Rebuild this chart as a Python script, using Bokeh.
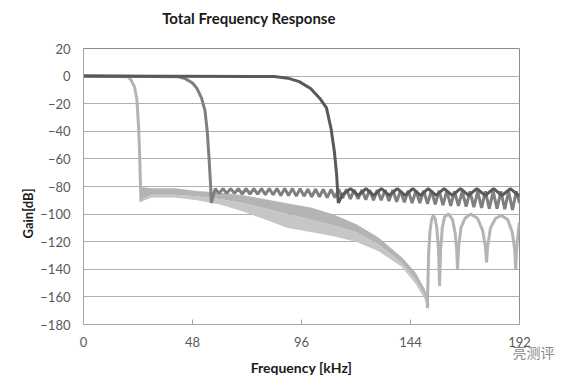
from bokeh.plotting import figure
from bokeh.models import Range1d, FixedTicker, Title, LinearAxis, CustomJSTickFormatter
from bokeh.embed import file_html
from bokeh.resources import INLINE

# ---------------- data ----------------
x_ticks = [0, 48, 96, 144, 192]
y_ticks = [-180, -160, -140, -120, -100, -80, -60, -40, -20, 0, 20]

# light curve (lowest cut-off)
light_pass_f = [0, 19.5, 21.0, 22.5, 23.5, 24.2, 24.7, 25.1, 25.3]
light_pass_g = [0, -0.5, -3, -8, -17, -35, -55, -80, -91]
light_band_f = [25.3, 30, 40, 50, 60, 70, 80, 90, 100, 110, 120, 130, 140, 146, 150, 152]
light_band_top = [-81, -82, -82, -84, -85, -87, -90, -93, -96, -101, -108, -118, -132, -143, -155, -166]
light_band_mid = [-90, -86, -86, -87, -89, -92, -96, -100, -104, -108, -113, -122, -135, -147, -158, -168]
light_band_bot = [-91, -88, -88, -90, -93, -98, -104, -110, -113, -116, -120, -127, -138, -150, -161, -170]
light_lobe_f = [151.4, 152.0, 152.6, 153.3, 154.0, 154.8, 155.6, 156.3, 156.8, 157.3, 158.0, 159.0,
                160.8, 162.5, 163.7, 164.3, 164.7, 165.2, 166.2, 168.0, 170.5, 173.5, 175.8, 177.0,
                177.5, 178.0, 179.2, 181.5, 184.0, 186.8, 188.8, 189.9, 190.3, 190.8, 191.5, 192.0]
light_lobe_g = [-168, -128, -112, -104, -101, -103, -110, -125, -152, -125, -110, -102,
                -100, -104, -114, -125, -140, -124, -110, -103, -100, -103, -112, -124,
                -135, -123, -110, -103, -101, -104, -113, -126, -140, -124, -112, -106]

# medium curve
med_pass_f = [0, 42, 45, 48, 50, 52, 53.5, 54.5, 55.3, 56.0, 56.3]
med_pass_g = [0, -0.5, -2, -5, -9, -16, -25, -40, -60, -80, -92]
med_stop_f = [56.3, 58.0, 59.7, 61.4, 63.1, 64.8, 66.5, 68.2, 69.9, 71.6, 73.3, 75.0, 76.7, 78.4,
              80.1, 81.8, 83.5, 85.2, 86.9, 88.6, 90.3, 92.0, 93.7, 95.4, 97.1, 98.8, 100.5, 102.2,
              103.9, 105.6, 107.3, 109.0, 110.7, 112.4, 114.1, 115.8, 117.5, 119.2, 120.9, 122.6,
              124.3, 126.0, 127.7, 129.4, 131.1, 132.8, 134.5, 136.2, 137.9, 139.6, 141.3, 143.0,
              144.7, 146.4, 148.1, 149.8, 151.5, 153.2, 154.9, 156.6, 158.3, 160.0, 161.7, 163.4,
              165.1, 166.8, 168.5, 170.2, 171.9, 173.6, 175.3, 177.0, 178.7, 180.4, 182.1, 183.8,
              185.5, 187.2, 188.9, 190.6, 192.0]
med_stop_g = [-92, -81.5, -85, -81.5, -85, -81.5, -85, -81.5, -85.5, -81.5, -85.5, -81.5, -85.5, -81.5,
              -86, -81.5, -86, -81.5, -86.5, -81.5, -86.5, -81.5, -87, -81.5, -87, -82, -87.5, -82,
              -87.5, -82, -88, -82, -88, -82, -88.5, -82, -89, -82.5, -89, -82.5,
              -89.5, -82.5, -90, -82.5, -90, -82.5, -90.5, -82.5, -91, -83, -91.5, -83,
              -92, -83, -92, -83, -92.5, -83, -93, -83, -93.5, -83, -94, -83.5,
              -94, -83.5, -94.5, -83.5, -95, -83.5, -95.5, -83.5, -96, -83.5, -96, -83.5,
              -96.5, -83.5, -97, -83.5, -92]

# dark curve (highest cut-off)
dark_pass_f = [0, 84, 90, 95, 100, 104, 107, 109, 110.5, 111.5, 112.2]
dark_pass_g = [0, -0.3, -1.5, -4, -9, -16, -23, -38, -55, -72, -92]
dark_stop_f = [112.2, 114.0, 117.6, 121.0, 124.4, 127.8, 131.2, 134.7, 138.2, 141.6, 145.0, 148.4,
               151.8, 155.3, 158.8, 162.4, 166.0, 169.6, 173.2, 176.9, 180.6, 184.3, 188.0, 191.5, 192.0]
dark_stop_g = [-92, -86, -81.5, -86.5, -81.5, -86.5, -81.5, -86.5, -81.5, -86.5, -81.5, -86.5,
               -81.5, -86.5, -81.5, -86.5, -81.5, -86.5, -81.5, -86.5, -81.5, -86.5, -81.5, -86.5, -86]

LIGHT = "#b4b4b4"
LIGHT_TEETH = "#c6c6c6"
MED = "#7f7f7f"
DARK = "#595959"
FONT = "Lato"

p = figure(width=576, height=379, output_backend="svg", toolbar_location=None,
           x_range=Range1d(0, 192), y_range=Range1d(-180, 20),
           min_border_left=83, min_border_right=57, min_border_top=48, min_border_bottom=55)
p.title = None
p.extra_x_ranges = {"wm": Range1d(0, 1)}
main_x = p.xaxis[0]
main_y = p.yaxis[0]

# chart title, carried by a label-only top axis so that it sits where the original's does
title_axis = LinearAxis(x_range_name="wm", ticker=FixedTicker(ticks=[0.3796]),
                        formatter=CustomJSTickFormatter(code="return 'Total Frequency Response'"),
                        axis_line_color=None, major_tick_line_color=None, minor_tick_line_color=None,
                        major_tick_in=0, major_tick_out=0, major_label_standoff=22,
                        major_label_text_font=FONT, major_label_text_font_size="15px",
                        major_label_text_font_style="bold", major_label_text_color="#1a1a1a")
p.add_layout(title_axis, "above")
p.add_layout(Title(text="Gain[dB]", align="left", offset=86, standoff=4,
                   text_font=FONT, text_font_size="13px", text_font_style="bold",
                   text_color="#1a1a1a"), "left")

# light
p.line(light_pass_f, light_pass_g, line_color=LIGHT, line_width=3)
p.varea(x=light_band_f, y1=light_band_mid, y2=light_band_bot, fill_color=LIGHT_TEETH)
p.varea(x=light_band_f, y1=light_band_top, y2=light_band_mid, fill_color=LIGHT)
p.line(light_band_f, light_band_top, line_color=LIGHT, line_width=2)
p.line(light_lobe_f, light_lobe_g, line_color=LIGHT, line_width=3)
# medium
p.line(med_pass_f, med_pass_g, line_color=MED, line_width=3)
p.line(med_stop_f, med_stop_g, line_color=MED, line_width=3)
# dark
p.line(dark_pass_f, dark_pass_g, line_color=DARK, line_width=3)
p.line(dark_stop_f, dark_stop_g, line_color=DARK, line_width=3)

# axes
main_x.ticker = FixedTicker(ticks=x_ticks)
main_y.ticker = FixedTicker(ticks=y_ticks)
for ax in (main_x, main_y):
    ax.major_label_text_font = FONT
    ax.major_label_text_font_size = "13px"
    ax.major_label_text_color = "#595959"
    ax.minor_tick_line_color = None
    ax.axis_line_color = "#a6a6a6"
    ax.major_tick_line_color = "#a6a6a6"
main_x.major_tick_in = 5
main_x.major_tick_out = 0
main_x.major_label_standoff = 12
main_y.major_tick_in = 0
main_y.major_tick_out = 0
main_y.major_label_standoff = 13

# second (label-only) bottom axis carrying the watermark text and the x title
wm_axis = LinearAxis(x_range_name="wm", ticker=FixedTicker(ticks=[1.0]),
                     formatter=CustomJSTickFormatter(code="return '\u3000\u3000亮测评'"),
                     axis_line_color=None, major_tick_line_color=None, minor_tick_line_color=None,
                     major_tick_in=0, major_tick_out=0, major_label_standoff=-8,
                     major_label_text_font="Noto Sans CJK SC",
                     major_label_text_font_size="14px", major_label_text_color="#8a8a8a",
                     axis_label="Frequency [kHz]", axis_label_standoff=-6,
                     axis_label_text_font=FONT, axis_label_text_font_size="14px",
                     axis_label_text_font_style="bold", axis_label_text_color="#1a1a1a")
p.add_layout(wm_axis, "below")

p.xgrid.grid_line_color = None
p.ygrid.grid_line_color = "#b0b0b0"
p.outline_line_color = "#8c8c8c"
p.background_fill_color = "white"
p.border_fill_color = "white"

open("out.html", "w").write(file_html(p, INLINE))
